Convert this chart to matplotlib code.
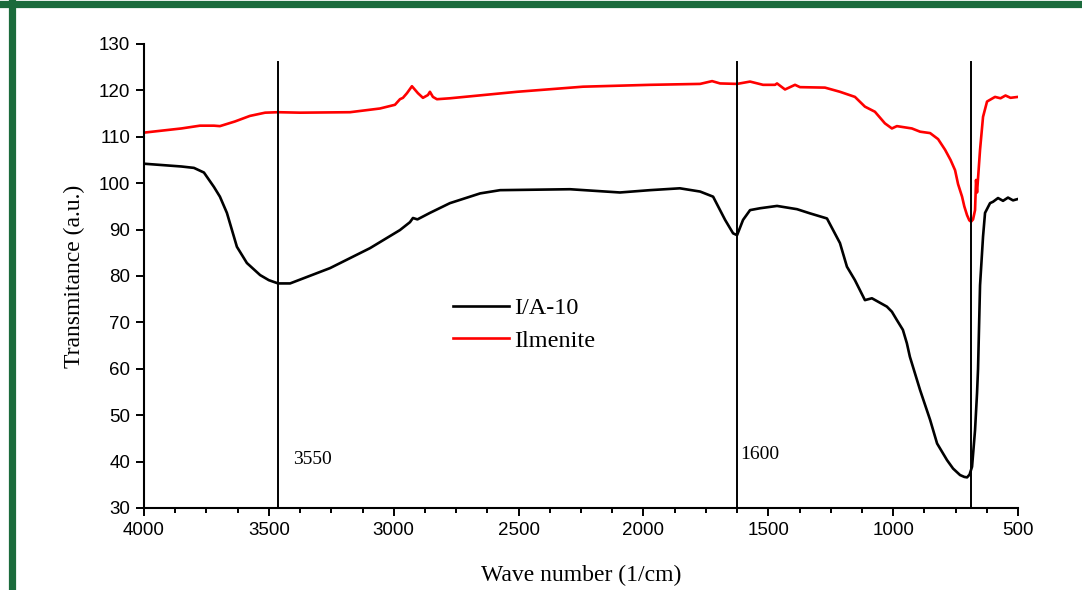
import matplotlib
matplotlib.use("Agg")
import matplotlib.pyplot as plt
from matplotlib.lines import Line2D
from matplotlib.ticker import MultipleLocator

# Wavenumbers (1/cm) and transmittance of I/A-10
ia_x = [4000, 3900, 3850, 3800, 3760, 3720, 3696, 3668, 3628, 3588, 3535, 3500,
        3463, 3415, 3255, 3095, 2975, 2935, 2923, 2905, 2855, 2775, 2654, 2574,
        2294, 2094, 1974, 1854, 1773, 1721, 1673, 1641, 1625, 1601, 1573, 1533,
        1465, 1385, 1333, 1265, 1213, 1185, 1153, 1113, 1085, 1025, 1005, 985,
        961, 945, 933, 892, 852, 824, 784, 760, 732, 715, 704, 694, 684, 672, 664,
        660, 652, 640, 632, 612, 600, 580, 560, 540, 520, 500]
ia_y = [104.2, 103.8, 103.6, 103.3, 102.3, 99.2, 97.1, 93.6, 86.3, 82.8, 80.2, 79.1,
        78.4, 78.4, 81.7, 86.0, 89.9, 91.6, 92.5, 92.2, 93.6, 95.7, 97.8, 98.5,
        98.7, 98.0, 98.5, 98.9, 98.2, 97.1, 92.1, 89.2, 88.8, 92.1, 94.2, 94.6,
        95.1, 94.4, 93.5, 92.4, 87.1, 82.0, 79.1, 74.8, 75.2, 73.4, 72.3, 70.5,
        68.4, 65.5, 62.6, 55.4, 49.0, 43.9, 40.3, 38.5, 37.1, 36.7, 36.6, 37.2, 38.9, 46.8, 54.8,
        60.0, 78.0, 88.5, 93.6, 95.7, 96.0, 96.8, 96.2, 96.9, 96.3, 96.6]

# Wavenumbers (1/cm) and transmittance of Ilmenite
il_x = [4000, 3850, 3776, 3720, 3696, 3636, 3576, 3515, 3463, 3375, 3175, 3055,
        2995, 2975, 2963, 2947, 2927, 2903, 2883, 2863, 2855, 2843, 2827, 2775,
        2506, 2242, 1974, 1773, 1725, 1693, 1625, 1573, 1521, 1473, 1465, 1433,
        1393, 1373, 1273, 1213, 1153, 1113, 1073, 1033, 1005, 985, 925, 892, 852,
        820, 792, 770, 752, 740, 724, 715, 704, 695, 688, 680, 672, 668, 664,
        652, 640, 624, 592, 570, 550, 530, 500]
il_y = [110.9, 111.8, 112.4, 112.4, 112.3, 113.3, 114.5, 115.2, 115.3, 115.2, 115.3, 116.1,
        116.9, 118.1, 118.4, 119.4, 120.9, 119.4, 118.4, 119.0, 119.7, 118.6, 118.1, 118.3,
        119.7, 120.8, 121.2, 121.4, 122.0, 121.5, 121.4, 121.9, 121.2, 121.2, 121.5, 120.2,
        121.2, 120.7, 120.6, 119.7, 118.6, 116.5, 115.4, 112.9, 111.8, 112.3, 111.8, 111.1, 110.8,
        109.5, 107.2, 105.0, 102.8, 99.8, 97.1, 95.0, 93.1, 92.0, 91.7, 92.2, 94.2, 100.7, 98.0,
        107.2, 114.3, 117.6, 118.6, 118.3, 118.9, 118.4, 118.6]

marker_pos = [3463, 1625, 688]
marker_labels = ["3550", "1600"]
x_ticks = [4000, 3500, 3000, 2500, 2000, 1500, 1000, 500]
y_ticks = [30, 40, 50, 60, 70, 80, 90, 100, 110, 120, 130]

fig = plt.figure(figsize=(10.82, 5.90), dpi=100)
ax = fig.add_axes([144/1082, 82/590, 874/1082, 464/590])

ax.plot(ia_x, ia_y, color="black", lw=1.9, label="I/A-10")
ax.plot(il_x, il_y, color="#ff0000", lw=1.9, label="Ilmenite")

for xp in marker_pos:
    ax.plot([xp, xp], [30, 126.1], color="black", lw=1.4, clip_on=False)

serif = ["Liberation Serif", "DejaVu Serif"]
ax.text(3403, 40.5, marker_labels[0], fontsize=14, family=serif, va="center", ha="left")
ax.text(1613, 41.5, marker_labels[1], fontsize=14, family=serif, va="center", ha="left")

ax.set_xlim(4000, 500)
ax.set_ylim(30, 130)
ax.set_xticks(x_ticks)
ax.set_yticks(y_ticks)
ax.xaxis.set_minor_locator(MultipleLocator(125))
for lab in ax.get_xticklabels() + ax.get_yticklabels():
    lab.set_family(["Liberation Sans", "DejaVu Sans"])
    lab.set_fontsize(13.5)
ax.tick_params(axis="both", which="major", direction="out", length=6, width=1.4, pad=4)
ax.tick_params(axis="x", which="minor", direction="out", length=3.5, width=1.4)

for s in ["top", "right"]:
    ax.spines[s].set_visible(False)
for s in ["left", "bottom"]:
    ax.spines[s].set_linewidth(1.5)

ax.set_xlabel("Wave number (1/cm)", fontsize=17, family=serif, labelpad=19)
ax.set_ylabel("Transmitance (a.u.)", fontsize=17, family=serif, labelpad=10)

leg = ax.legend(loc="center left", bbox_to_anchor=(0.3535, 0.3955), frameon=False,
                prop={"family": serif, "size": 17.5}, handlelength=2.3,
                handletextpad=0.2, labelspacing=0.45, borderpad=0, borderaxespad=0)

# green document frame
green = "#1b6b3c"
fig.add_artist(Line2D([0, 1], [1 - 3.5/590, 1 - 3.5/590], transform=fig.transFigure,
                      color=green, lw=5.2))
fig.add_artist(Line2D([11.5/1082, 11.5/1082], [0, 1], transform=fig.transFigure,
                      color=green, lw=5.2))

fig.savefig("out.png", dpi=100)
